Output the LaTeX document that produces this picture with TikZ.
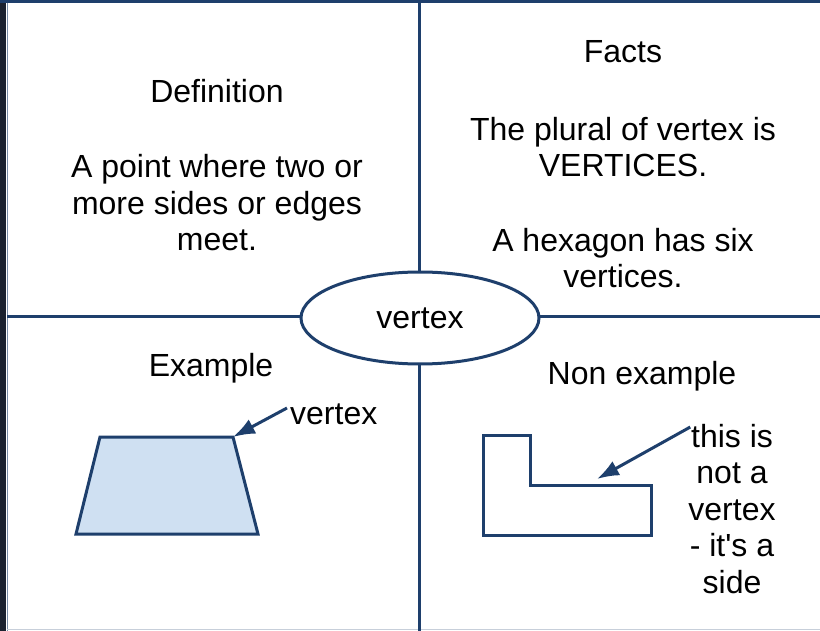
\documentclass[tikz,border=0pt]{standalone}
\usepackage{fontspec}
\setmainfont{Liberation Sans}
\usetikzlibrary{arrows.meta,shapes.geometric,positioning}
\definecolor{navy}{HTML}{1E3F6C}
\definecolor{shade}{HTML}{CFE0F2}
\definecolor{rim}{HTML}{1B2230}

\begin{document}
\begin{tikzpicture}[x=1pt,y=-1pt,>={Latex[length=22pt,width=16pt]}]
    \tikzstyle{every node}=[font=\fontsize{32}{36.5}\selectfont,align=center,inner sep=0pt]
    \tikzstyle{divider}=[draw=navy,line width=3pt]
    \tikzstyle{outline}=[draw=navy,line width=3pt,line join=miter]
    \tikzstyle{pointer}=[->,draw=navy,line width=3pt]
    \useasboundingbox (0,0) rectangle (820,631);
    \fill[white] (0,0) rectangle (820,631);

    % frame of the page
    \fill[rim] (0,0) rectangle (6,631);
    \fill[navy] (0,0) rectangle (820,3);
    \draw[navy!60,line width=1.5pt] (7.5,3) -- (7.5,631);
    \draw[navy!25,line width=1.5pt] (7,629.5) -- (820,629.5);

    % the four quarters
    \coordinate (top) at (419,3);
    \coordinate (bottom) at (419,631);
    \coordinate (left) at (7,317);
    \coordinate (right) at (820,317);
    \draw[divider] (top) -- (bottom);
    \draw[divider] (left) -- (right);
    \node[ellipse,draw=navy,line width=3pt,fill=white,minimum width=238pt,minimum height=92pt] (word) at (420,318) {vertex};

    % definition
    \node (defhead) at (217,91) {Definition};
    \node (defbody) at (217,203) {A point where two or\\more sides or edges\\meet.};

    % facts
    \node (facthead) at (623,52) {Facts};
    \node (plural) at (623,147) {The plural of vertex is\\VERTICES.};
    \node (hexagon) at (623,258) {A hexagon has six\\vertices.};

    % example
    \node (exhead) at (211,368) {Example};
    \filldraw[outline,fill=shade] (100,437) coordinate (tl) -- (233,437) coordinate (tr)
        -- (258,534) -- (76,534) -- cycle;
    \node[anchor=west] (exlabel) at (290,414) {vertex};
    \draw[pointer] (exlabel.west) ++(-3,-6) -- (tr);

    % non example
    \node (nonhead) at (642,376) {Non example};
    \draw[outline] (483,435) -- (530,435) -- (530,485) coordinate (step) -- (651,485)
        -- (651,535) -- (483,535) -- cycle;
    \node (nonlabel) at (732,509) {this is\\not a\\vertex\\- it\textquotesingle s a\\side};
    \coordinate (aim) at (597,479);
    \draw[pointer] (nonlabel.north west) ++(2,3) -- (aim);
\end{tikzpicture}
\end{document}
